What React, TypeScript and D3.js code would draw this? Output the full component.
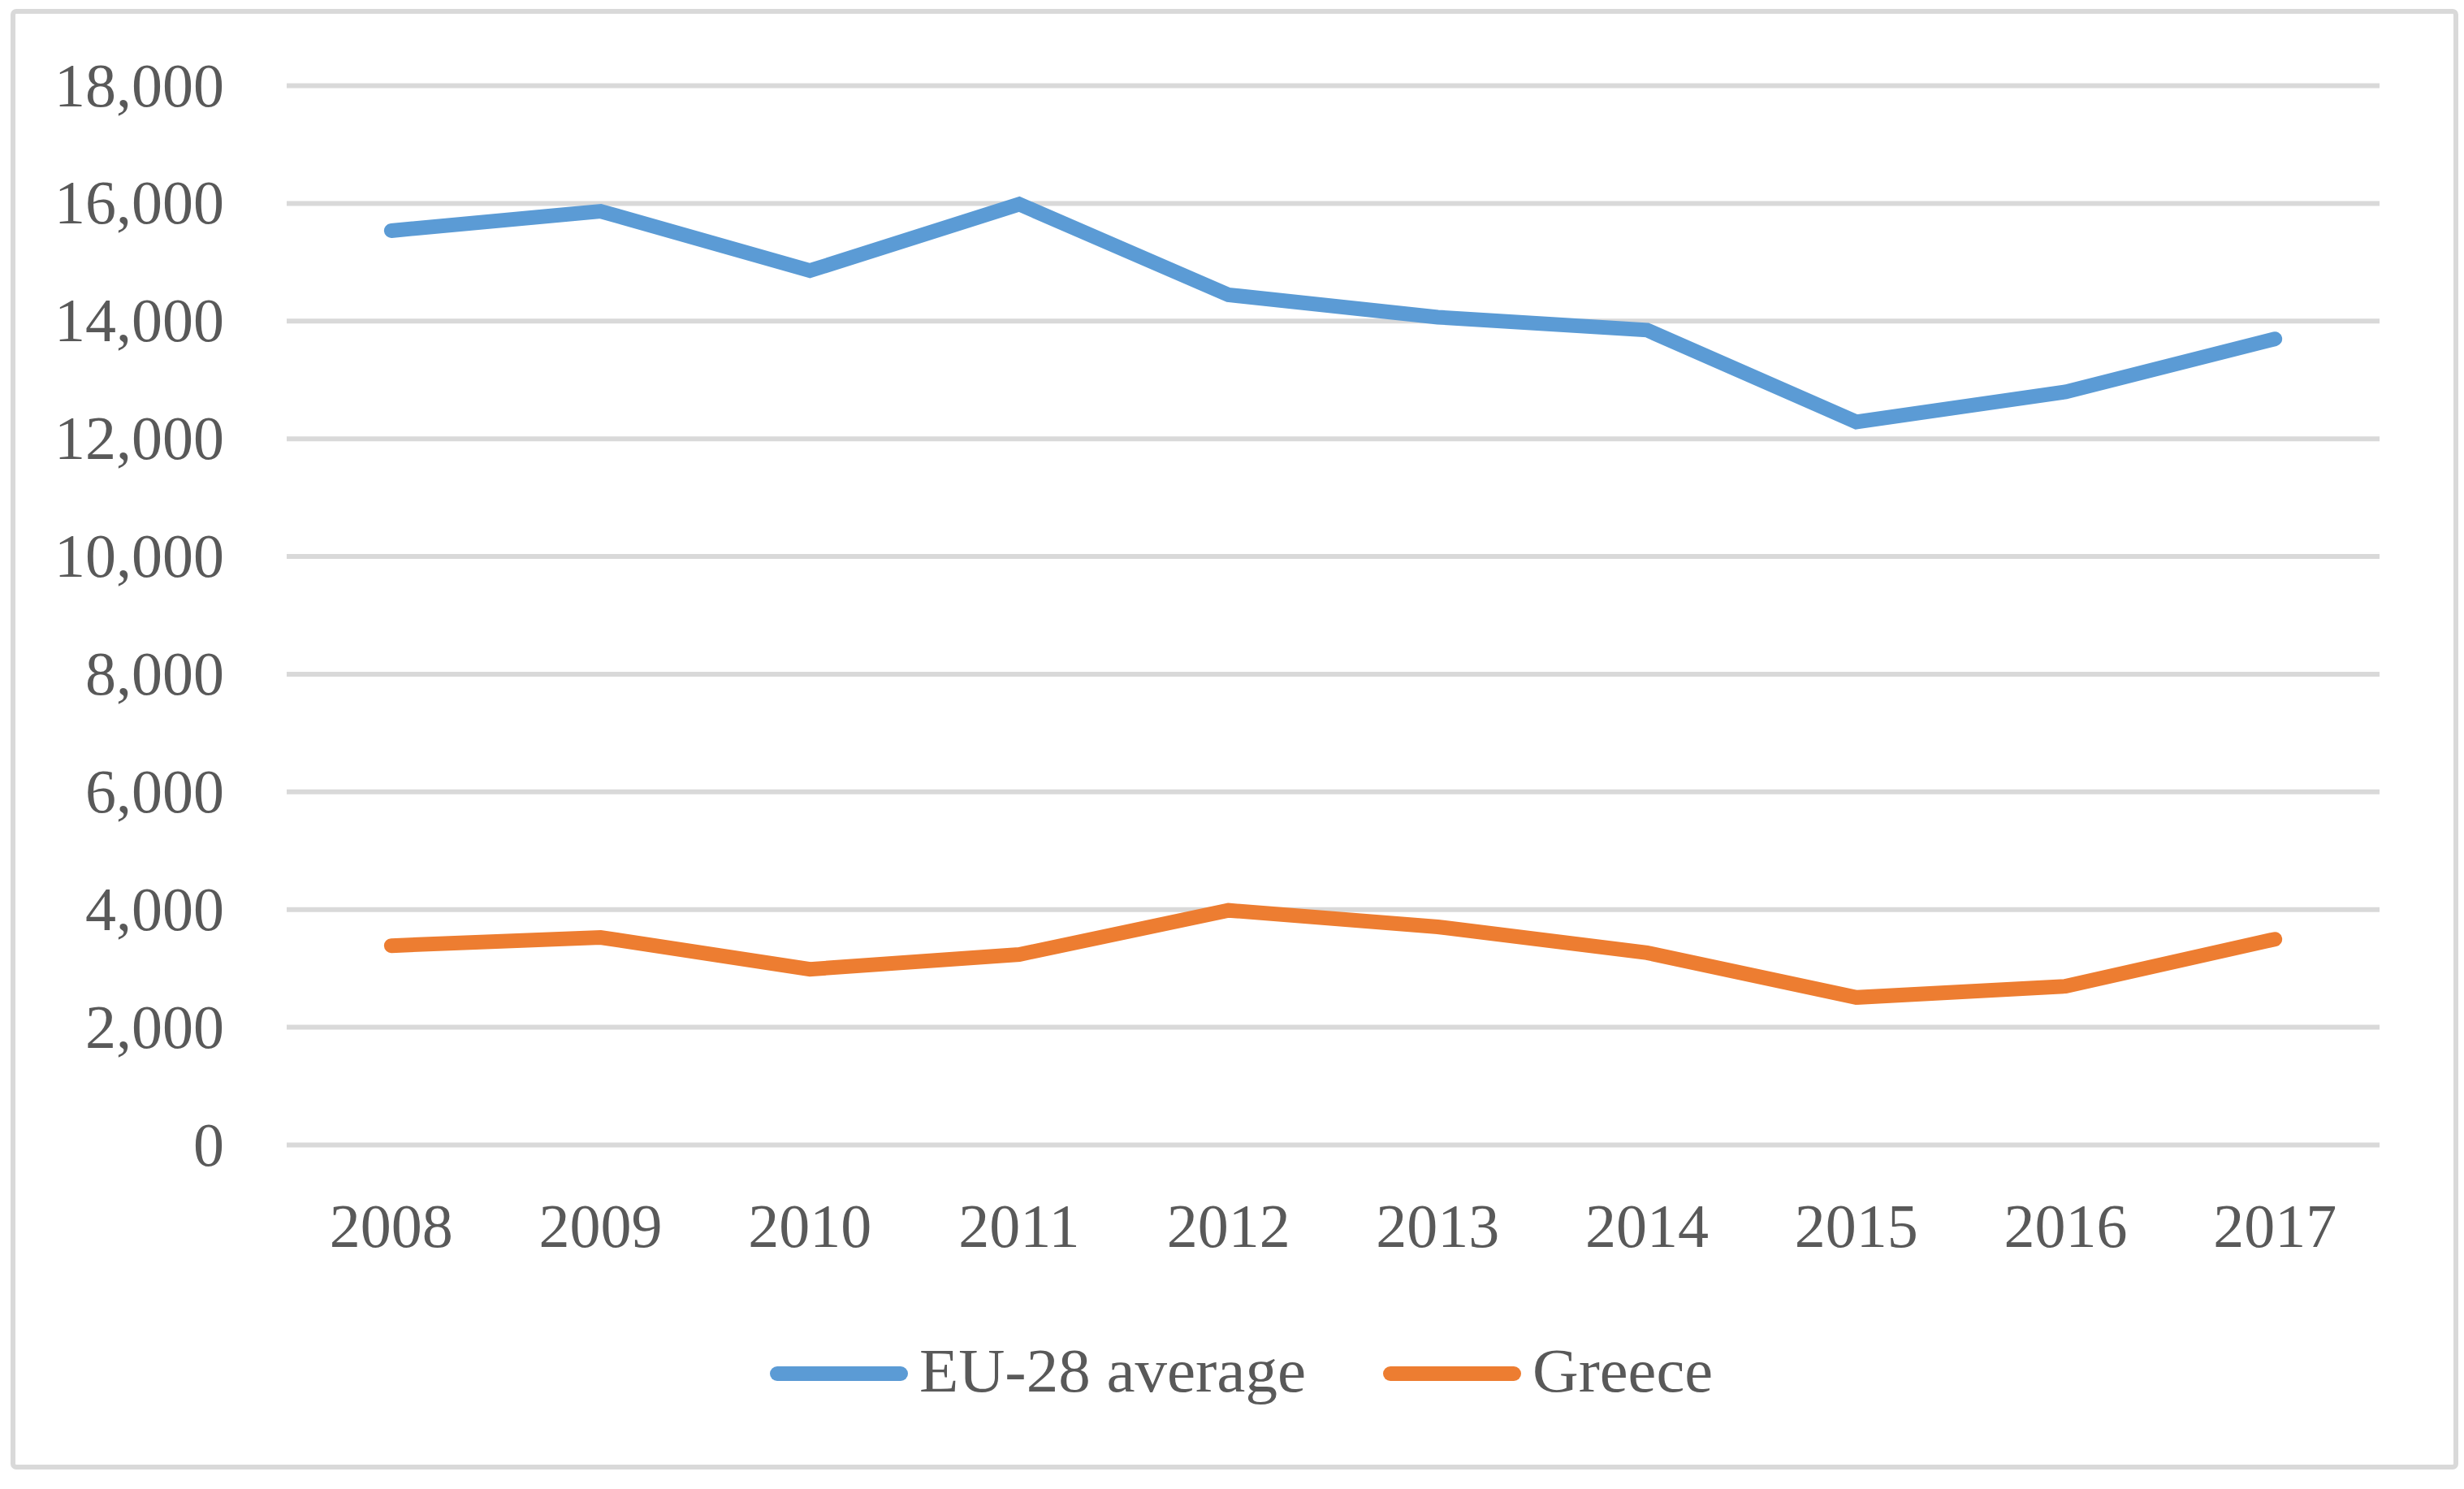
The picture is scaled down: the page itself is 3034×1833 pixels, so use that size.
import * as d3 from "d3";
import { useEffect, useRef } from "react";

const WIDTH = 3034;
const HEIGHT = 1833;
const PLOT = { left: 353, right: 2930, top: 105, bottom: 1409 };

const years = ["2008", "2009", "2010", "2011", "2012", "2013", "2014", "2015", "2016", "2017"];
const euAverage = [15530, 15860, 14850, 15980, 14440, 14060, 13840, 12280, 12790, 13690];
const greece = [3380, 3520, 2980, 3230, 3980, 3700, 3260, 2500, 2690, 3490];
const yTicks = [0, 2000, 4000, 6000, 8000, 10000, 12000, 14000, 16000, 18000];

const seriesNames = ["EU-28 average", "Greece"];
const seriesColors = ["#5B9BD5", "#ED7D31"];

const FONT = "'Liberation Serif', 'Times New Roman', serif";
const TEXT = "#595959";
const GRID = "#D9D9D9";

export default function App() {
  const ref = useRef<SVGSVGElement>(null);

  useEffect(() => {
    const svg = d3.select(ref.current);
    svg.selectAll("*").remove();

    // frame
    svg
      .append("rect")
      .attr("x", 16)
      .attr("y", 14)
      .attr("width", 3008)
      .attr("height", 1792)
      .attr("rx", 4)
      .attr("fill", "white")
      .attr("stroke", GRID)
      .attr("stroke-width", 6);

    const xScale = d3
      .scaleBand()
      .domain(years)
      .range([PLOT.left, PLOT.right])
      .padding(0);

    const yScale = d3
      .scaleLinear()
      .domain([0, 18000])
      .range([PLOT.bottom, PLOT.top]);

    const xPos = (d: string) => (xScale(d) || 0) + xScale.bandwidth() / 2;

    // y axis + gridlines
    const yAxis = svg
      .append("g")
      .attr("transform", `translate(${PLOT.left}, 0)`)
      .call(
        d3
          .axisLeft(yScale)
          .tickValues(yTicks)
          .tickSize(-(PLOT.right - PLOT.left))
          .tickPadding(77)
          .tickFormat(d3.format(","))
      );
    yAxis.select(".domain").remove();
    yAxis.selectAll("line").attr("stroke", GRID).attr("stroke-width", 6);
    yAxis
      .selectAll("text")
      .attr("dy", 25)
      .attr("fill", TEXT)
      .attr("font-family", FONT)
      .attr("font-size", 76);

    // x axis labels
    const xAxis = svg
      .append("g")
      .attr("transform", `translate(0, ${PLOT.bottom})`)
      .call(d3.axisBottom(xScale).tickSize(0));
    xAxis.select(".domain").remove();
    xAxis
      .selectAll("text")
      .attr("y", 126)
      .attr("dy", 0)
      .attr("fill", TEXT)
      .attr("font-family", FONT)
      .attr("font-size", 76);

    // lines
    const line = d3
      .line<number>()
      .x((_, i) => xPos(years[i]))
      .y((d) => yScale(d));

    [euAverage, greece].forEach((values, i) => {
      svg
        .append("path")
        .datum(values)
        .attr("d", line)
        .attr("fill", "none")
        .attr("stroke", seriesColors[i])
        .attr("stroke-width", 18)
        .attr("stroke-linecap", "round")
        .attr("stroke-linejoin", "miter");
    });

    // legend
    const legendItems = [
      { x: 948, textLen: 476 },
      { x: 1703, textLen: 222 },
    ];
    legendItems.forEach((item, i) => {
      const g = svg.append("g");
      g.append("line")
        .attr("x1", item.x + 9)
        .attr("x2", item.x + 161)
        .attr("y1", 1691)
        .attr("y2", 1691)
        .attr("stroke", seriesColors[i])
        .attr("stroke-width", 18)
        .attr("stroke-linecap", "round");
      g.append("text")
        .attr("x", item.x + 184)
        .attr("y", 1713)
        .attr("fill", TEXT)
        .attr("font-family", FONT)
        .attr("font-size", 76)
        .attr("textLength", item.textLen)
        .attr("lengthAdjust", "spacingAndGlyphs")
        .text(seriesNames[i]);
    });
  }, []);

  return (
    <svg
      ref={ref}
      width={WIDTH}
      height={HEIGHT}
      style={{ position: "absolute", left: 0, top: 0, display: "block", background: "white" }}
    />
  );
}
